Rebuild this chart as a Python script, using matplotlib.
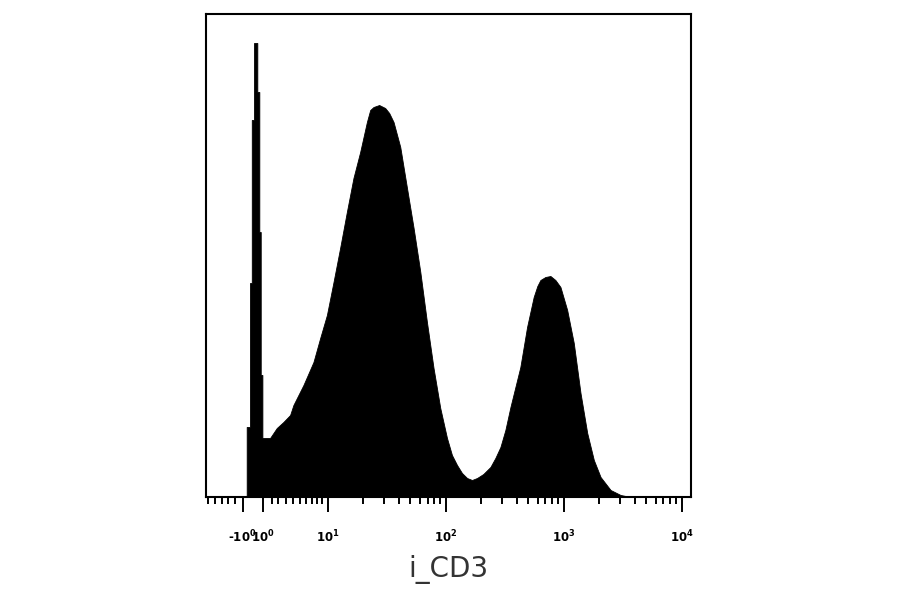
import matplotlib.pyplot as plt
import numpy as np

# Ось X в единицах декад (биэкспоненциальная шкала): 10^1 -> 1, 10^2 -> 2 ...
channel = [0.312, 0.312, 0.340, 0.340, 0.355, 0.355, 0.374, 0.374, 0.402, 0.402,
           0.419, 0.419, 0.431, 0.431, 0.445, 0.445,
           0.510, 0.567, 0.623, 0.680, 0.708, 0.793, 0.878, 0.935, 0.992, 1.048,
           1.104, 1.161, 1.217, 1.274, 1.331, 1.359, 1.387, 1.435, 1.486, 1.520,
           1.557, 1.614, 1.671, 1.727, 1.784, 1.840, 1.896, 1.953, 2.010, 2.052,
           2.095, 2.137, 2.180, 2.222, 2.265, 2.318, 2.378, 2.420, 2.463, 2.505,
           2.548, 2.590, 2.632, 2.689, 2.745, 2.776, 2.802, 2.844, 2.887, 2.929,
           2.972, 3.029, 3.085, 3.142, 3.199, 3.255, 3.312, 3.397, 3.482, 3.567]
counts = [0, 70, 70, 214, 214, 377, 377, 454, 454, 405,
          405, 265, 265, 122, 122, 59,
          59, 69, 75, 82, 92, 112, 135, 159, 182, 215,
          249, 285, 319, 345, 375, 387, 390, 392, 389, 384,
          375, 350, 309, 269, 225, 175, 129, 89, 59, 42,
          32, 24, 19, 17, 19, 23, 30, 39, 50, 67,
          90, 110, 130, 170, 200, 211, 217, 220, 221, 217,
          210, 187, 154, 104, 64, 37, 20, 7, 2, 0]

major_pos = [0.278, 0.453, 1, 2, 3, 4]
major_labels = [r'-$\mathbf{10^0}$', r'$\mathbf{10^0}$', r'$\mathbf{10^1}$',
                r'$\mathbf{10^2}$', r'$\mathbf{10^3}$', r'$\mathbf{10^4}$']
minor_low = [-0.014, 0.043, 0.100, 0.156, 0.213,
             0.525, 0.581, 0.646, 0.708, 0.765, 0.816, 0.864, 0.907, 0.949]

x = np.array(channel)
y = np.array(counts)

fig = plt.figure(figsize=(9, 5.94), dpi=100)
ax = fig.add_axes([0.2289, 0.1633, 0.5389, 0.8131])

ax.fill_between(x, y, 0, color='black', linewidth=0.6, edgecolor='black')

ax.set_xlim(-0.033, 4.079)
ax.set_ylim(0, 483)

minor = list(minor_low)
for d in range(1, 4):
    minor += [d + np.log10(k) for k in range(2, 10)]
ax.set_xticks(major_pos)
ax.set_xticklabels(major_labels, fontsize=8.5, fontweight='bold')
ax.set_xticks(minor, minor=True)
ax.tick_params(axis='x', which='major', direction='out', length=11, width=1.4, pad=12)
ax.tick_params(axis='x', which='minor', direction='out', length=5, width=1.4)
ax.set_yticks([])

for s in ax.spines.values():
    s.set_linewidth(1.5)
    s.set_color('black')

ax.set_xlabel('i_CD3', fontsize=20, color='#333333', labelpad=7)

fig.savefig('out.png', dpi=100)
